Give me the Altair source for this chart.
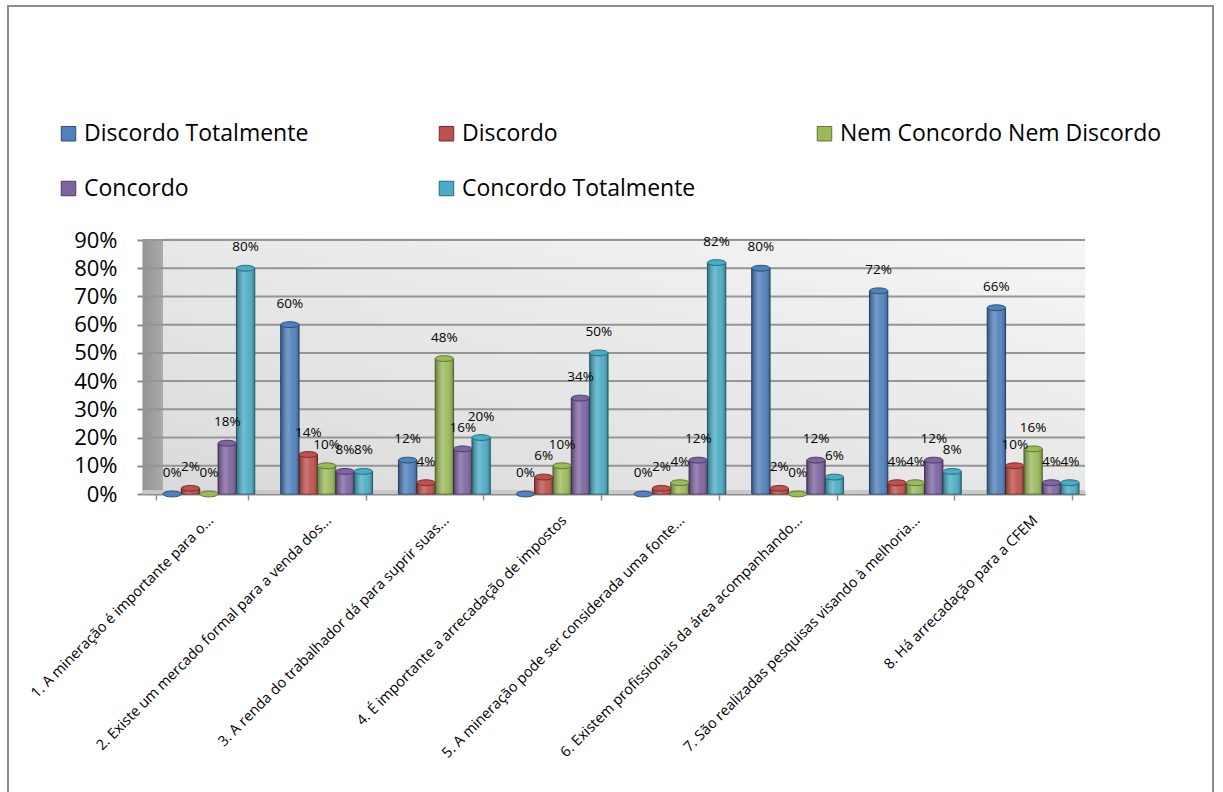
import altair as alt
import pandas as pd

# Survey statements (x categories)
categories = [
    "1. A mineração é importante para o...",
    "2. Existe um mercado formal para a venda dos...",
    "3. A renda do trabalhador dá para suprir suas...",
    "4. É importante a arrecadação de impostos",
    "5. A mineração pode ser considerada uma fonte...",
    "6. Existem profissionais da área acompanhando...",
    "7. São realizadas pesquisas visando à melhoria...",
    "8. Há  arrecadação para a CFEM",
]

# Answer scale (series)
series = [
    "Discordo Totalmente",
    "Discordo",
    "Nem Concordo Nem Discordo",
    "Concordo",
    "Concordo Totalmente",
]

# Percentage of answers per statement, one list per series
discordo_totalmente = [0, 60, 12, 0, 0, 80, 72, 66]
discordo = [2, 14, 4, 6, 2, 2, 4, 10]
nem_concordo_nem_discordo = [0, 10, 48, 10, 4, 0, 4, 16]
concordo = [18, 8, 16, 34, 12, 12, 12, 4]
concordo_totalmente = [80, 8, 20, 50, 82, 6, 8, 4]

y_ticks = [0, 10, 20, 30, 40, 50, 60, 70, 80, 90]

fill_colors = ["#4F81BD", "#C0504D", "#9BBB59", "#8064A2", "#4BACC6"]
edge_colors = ["#2C4D75", "#772C2A", "#5F7530", "#4D3B62", "#276A7C"]

values = [discordo_totalmente, discordo, nem_concordo_nem_discordo, concordo, concordo_totalmente]
rows = []
for s, vals in zip(series, values):
    for c, v in zip(categories, vals):
        rows.append({"categoria": c, "resposta": s, "pct": v, "rotulo": f"{v}%"})
df = pd.DataFrame(rows)

W, H = 942, 254
PAD_INNER = 0.22
band = W / 8 * (1 - PAD_INNER)
DEPTH = 7  # bars sit slightly right of the category centre (depth effect)

one = pd.DataFrame({"k": [0]})
grid_df = pd.DataFrame({"pct": y_ticks[1:]})

x_enc = alt.X(
    "categoria:N",
    sort=categories,
    scale=alt.Scale(paddingInner=PAD_INNER, paddingOuter=PAD_INNER / 2),
    axis=alt.Axis(
        title=None,
        labelAngle=-45,
        labelAlign="right",
        labelBaseline="middle",
        labelFont="Open Sans",
        labelFontSize=14.5,
        labelColor="#000000",
        labelLimit=500,
        labelOverlap=False,
        labelPadding=18,
        labelOffset=9,
        tickBand="extent",
        tickSize=6,
        tickColor="#8c8c8c",
        tickWidth=1.5,
        domainColor="#8c8c8c",
        domainWidth=2,
        grid=False,
    ),
)
y_scale = alt.Scale(domain=[0, 90], nice=False)
y_axis = alt.Axis(
    title=None,
    values=y_ticks,
    labelExpr="datum.value + '%'",
    labelFont="Open Sans",
    labelFontSize=22,
    labelColor="#000000",
    labelOverlap=False,
    labelFlush=False,
    labelPadding=20,
    tickSize=6,
    tickColor="#8c8c8c",
    tickWidth=2,
    domainColor="#8c8c8c",
    domainWidth=2,
    grid=False,
)
y_enc = alt.Y("pct:Q", scale=y_scale, axis=y_axis)

xoff = alt.XOffset(
    "resposta:N", sort=series, scale=alt.Scale(domain=series, range=[DEPTH, DEPTH + band])
)
color_enc = alt.Color(
    "resposta:N",
    sort=series,
    scale=alt.Scale(domain=series, range=fill_colors),
    legend=alt.Legend(
        title=None,
        orient="none",
        legendX=-86,
        legendY=-118,
        direction="horizontal",
        columns=3,
        columnPadding=29,
        rowPadding=31,
        gridAlign="all",
        labelFont="Open Sans",
        labelFontSize=23,
        labelColor="#000000",
        labelLimit=600,
        labelOffset=4,
        symbolType="square",
        symbolSize=210,
        symbolStrokeWidth=1,
        symbolStrokeColor="#3a3a3a",
    ),
)
stroke_enc = alt.Stroke(
    "resposta:N", sort=series, scale=alt.Scale(domain=series, range=edge_colors), legend=None
)

# frame around the whole figure
frame = alt.Chart(one).mark_rect(fill="transparent", stroke="#8c8c8c", strokeWidth=2).encode(
    x=alt.value(-135), x2=alt.value(1070), y=alt.value(-234), y2=alt.value(570)
)

# back wall with soft gradient
back_wall = alt.Chart(one).mark_rect(
    color=alt.LinearGradient(
        gradient="linear",
        stops=[alt.GradientStop(color="#dadada", offset=0), alt.GradientStop(color="#f6f6f6", offset=1)],
        x1=0, x2=1, y1=1, y2=0,
    )
).encode(x=alt.value(20), x2=alt.value(W), y=alt.value(-2), y2=alt.value(H - 4))

# left side wall
side_wall = alt.Chart(one).mark_rect(
    color=alt.LinearGradient(
        gradient="linear",
        stops=[alt.GradientStop(color="#939393", offset=0), alt.GradientStop(color="#ababab", offset=1)],
        x1=0, x2=1, y1=0, y2=0,
    )
).encode(x=alt.value(0), x2=alt.value(20), y=alt.value(0), y2=alt.value(H))

# horizontal gridlines
grid = alt.Chart(grid_df).mark_rule(color="#959595", strokeWidth=2).encode(
    y=y_enc, x=alt.value(0), x2=alt.value(W)
)

# floor strip under the bars
floor = alt.Chart(one).mark_rect(color="#c8c8c8").encode(
    x=alt.value(0), x2=alt.value(W), y=alt.value(H - 4), y2=alt.value(H)
)

base = alt.Chart(df).encode(x=x_enc, xOffset=xoff, y=y_enc)

bars = base.mark_bar(strokeWidth=1).encode(color=color_enc, stroke=stroke_enc)

# cylinder shading on top of each bar
shade = base.mark_bar(
    color=alt.LinearGradient(
        gradient="linear",
        stops=[
            alt.GradientStop(color="rgba(0,0,0,0.35)", offset=0),
            alt.GradientStop(color="rgba(255,255,255,0.22)", offset=0.4),
            alt.GradientStop(color="rgba(255,255,255,0.05)", offset=0.65),
            alt.GradientStop(color="rgba(0,0,0,0.30)", offset=1),
        ],
        x1=0, x2=1, y1=0, y2=0,
    )
)

# elliptical caps
caps = base.mark_point(
    shape="M-1,0 A1,0.32 0 1,0 1,0 A1,0.32 0 1,0 -1,0 Z",
    size=330,
    filled=True,
    opacity=1,
    strokeWidth=1,
).encode(color=color_enc, stroke=stroke_enc)

labels = base.mark_text(
    font="Open Sans", fontSize=13.5, baseline="bottom", dy=-14, color="#000000"
).encode(text="rotulo:N")

chart = (
    alt.layer(frame, back_wall, side_wall, grid, floor, bars, shade, caps, labels)
    .properties(
        width=W,
        height=H,
        padding={"left": 143, "top": 240, "right": 138, "bottom": 298},
        autosize=alt.AutoSizeParams(type="none"),
        background="#ffffff",
    )
    .configure_view(strokeWidth=0)
)

chart.save("out.html", embed_options={"renderer": "svg", "actions": False})
